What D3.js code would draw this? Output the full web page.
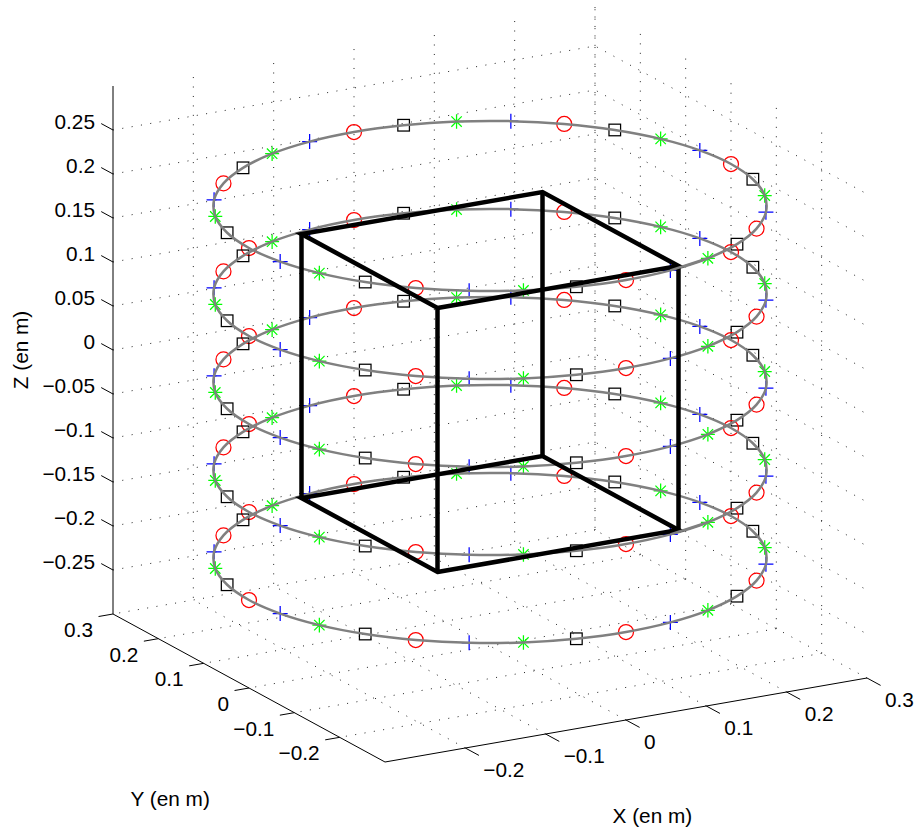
<!DOCTYPE html>
<html><head><meta charset="utf-8">
<style>html,body{margin:0;padding:0;background:#fff}svg{display:block}
text{font-family:"Liberation Sans",Arial,sans-serif;font-size:20.8px;fill:#000}</style>
<script src="https://cdn.jsdelivr.net/npm/d3@7/dist/d3.min.js"></script></head>
<body><svg id="c" width="917" height="831"></svg>
<script>
const xTicks=[-0.2,-0.1,0,0.1,0.2,0.3];
const yTicks=[-0.2,-0.1,0,0.1,0.2,0.3];
const zTicks=[-0.25,-0.2,-0.15,-0.1,-0.05,0,0.05,0.1,0.15,0.2,0.25];
const ringZ=[0.2,0.1,0,-0.1,-0.2];
const ringX=[.3,.2942,.2772,.2494,.2121,.1667,.1148,.0585,0,-.0585,-.1148,-.1667,-.2121,-.2494,-.2772,-.2942,-.3,-.2942,-.2772,-.2494,-.2121,-.1667,-.1148,-.0585,0,.0585,.1148,.1667,.2121,.2494,.2772,.2942];
const ringY=[0,.0585,.1148,.1667,.2121,.2494,.2772,.2942,.3,.2942,.2772,.2494,.2121,.1667,.1148,.0585,0,-.0585,-.1148,-.1667,-.2121,-.2494,-.2772,-.2942,-.3,-.2942,-.2772,-.2494,-.2121,-.1667,-.1148,-.0585];
const plusX=[.2942,.1667,-.0585,-.2494,-.2942,-.1667,.0585,.2494];
const plusY=[.0585,.2494,.2942,.1667,-.0585,-.2494,-.2942,-.1667];
const starX=[.2772,.1148,-.1148,-.2772,-.2772,-.1148,.1148,.2772];
const starY=[.1148,.2772,.2772,.1148,-.1148,-.2772,-.2772,-.1148];
const squareX=[.2494,.0585,-.1667,-.2942,-.2494,-.0585,.1667,.2942];
const squareY=[.1667,.2942,.2494,.0585,-.1667,-.2942,-.2494,-.0585];
const circleX=[.3,.2121,0,-.2121,-.3,-.2121,0,.2121];
const circleY=[0,.2121,.3,.2121,0,-.2121,-.3,-.2121];
const cubeX=[-.15,.15,.15,-.15];
const cubeY=[-.15,-.15,.15,.15];
const cubeZ=[.15,-.15];
const overRings=[0.2,-0.1];      // rings painted over the cube's right corner
const overSpan=[25,26];
const LIM=[-0.3,0.3];
const fmt=v=>String(v).replace("-","\u2212");

// orthographic view built from linear scales
const hX=d3.scaleLinear(LIM,[-241,241]), hY=d3.scaleLinear(LIM,[136,-136]);
const vX=d3.scaleLinear(LIM,[42,-42]), vY=d3.scaleLinear(LIM,[74,-74]), vZ=d3.scaleLinear(LIM,[264,-264]);
const CX=490, CY=382;
const P=(x,y,z)=>[CX+hX(x)+hY(y), CY+vX(x)+vY(y)+vZ(z)];

const svg=d3.select("#c");
const seg=d3.line();
const path=pts=>seg(pts);

// grid
const grid=svg.append("g").attr("fill","none").attr("stroke","#222").attr("stroke-width",1).attr("stroke-dasharray","1 8.45");
const gridLines=[];
xTicks.forEach(x=>gridLines.push([P(x,-.3,-.3),P(x,.3,-.3),P(x,.3,.3)]));
yTicks.forEach(y=>gridLines.push([P(.3,y,-.3),P(-.3,y,-.3)]));
yTicks.forEach(y=>gridLines.push([P(.3,y,-.3),P(.3,y,.3)]));
zTicks.forEach(z=>gridLines.push([P(-.3,.3,z),P(.3,.3,z),P(.3,-.3,z)]));
grid.selectAll("path").data(gridLines).join("path").attr("d",path);

// axes
const ax=svg.append("g").attr("fill","none").attr("stroke","#000").attr("stroke-width",1);
ax.append("path").attr("d",path([P(.3,-.3,-.3),P(-.3,-.3,-.3),P(-.3,.3,-.3),P(-.3,.3,.3)]));
ax.selectAll(".tx").data(xTicks).join("path").attr("d",x=>path([P(x,-.3,-.3),P(x,-.33,-.3)]));
ax.selectAll(".ty").data(yTicks).join("path").attr("d",y=>path([P(-.3,y,-.3),P(-.318,y,-.3)]));
ax.selectAll(".tz").data(zTicks).join("path").attr("d",z=>path([P(-.3,.3,z),P(-.3,.326,z)]));

const lab=svg.append("g");
lab.selectAll(".lx").data(xTicks).join("text").attr("text-anchor","start")
 .attr("x",x=>P(x,-.3,-.3)[0]+18).attr("y",x=>P(x,-.3,-.3)[1]+29).text(fmt);
lab.selectAll(".ly").data(yTicks).join("text").attr("text-anchor","end")
 .attr("x",y=>P(-.3,y,-.3)[0]-20).attr("y",y=>P(-.3,y,-.3)[1]+23).text(fmt);
lab.selectAll(".lz").data(zTicks).join("text").attr("text-anchor","end")
 .attr("x",95).attr("y",z=>P(-.3,.3,z)[1]-1).text(fmt);
lab.append("text").attr("x",612.5).attr("y",823).text("X (en m)");
lab.append("text").attr("x",130.5).attr("y",806).text("Y (en m)");
lab.append("text").attr("transform","translate(28,350) rotate(-90)").attr("text-anchor","middle").text("Z (en m)");

// markers
const marks=svg.append("g").attr("fill","none").attr("stroke-width",1.25);
const pairs=(xs,ys,z)=>xs.map((x,i)=>P(x,ys[i],z));
ringZ.forEach(z=>{
  marks.append("g").attr("stroke","#0000ff").selectAll("path").data(pairs(plusX,plusY,z)).join("path")
    .attr("transform",d=>`translate(${d})`).attr("d","M-7.5,0H7.5M0,-7.5V7.5");
  marks.append("g").attr("stroke","#00ff00").selectAll("path").data(pairs(starX,starY,z)).join("path")
    .attr("transform",d=>`translate(${d})`).attr("d","M-7,0H7M0,-7.3V7.3M-5.2,-5.2L5.2,5.2M-5.2,5.2L5.2,-5.2");
  marks.append("g").attr("stroke","#000").selectAll("rect").data(pairs(squareX,squareY,z)).join("rect")
    .attr("x",d=>d[0]-5.8).attr("y",d=>d[1]-5.8).attr("width",11.6).attr("height",11.6);
  marks.append("g").attr("stroke","#ff0000").selectAll("circle").data(pairs(circleX,circleY,z)).join("circle")
    .attr("cx",d=>d[0]).attr("cy",d=>d[1]).attr("r",7.5);
});

// rings
const ring=d3.line().curve(d3.curveCatmullRomClosed.alpha(0.5));
const grayStyle=g=>g.attr("fill","none").attr("stroke","#808080").attr("stroke-width",2.5);
svg.append("g").call(grayStyle)
 .selectAll("path").data(ringZ).join("path").attr("d",z=>ring(pairs(ringX,ringY,z)));

// cube
const cube=svg.append("g").attr("fill","none").attr("stroke","#000").attr("stroke-width",4.5).attr("stroke-linejoin","miter");
cube.selectAll(".v").data(cubeX).join("path")
 .attr("d",(x,i)=>path(cubeZ.map(z=>P(x,cubeY[i],z))));
cube.selectAll(".h").data(cubeZ).join("path").attr("class","h")
 .attr("d",z=>path(pairs(cubeX,cubeY,z))+"Z");

// stretch of ring in front of the cube's right corner
svg.append("g").call(grayStyle).selectAll("path").data(overRings).join("path")
 .attr("d",z=>path(overSpan.map(i=>P(ringX[i],ringY[i],z))));
</script></body></html>
